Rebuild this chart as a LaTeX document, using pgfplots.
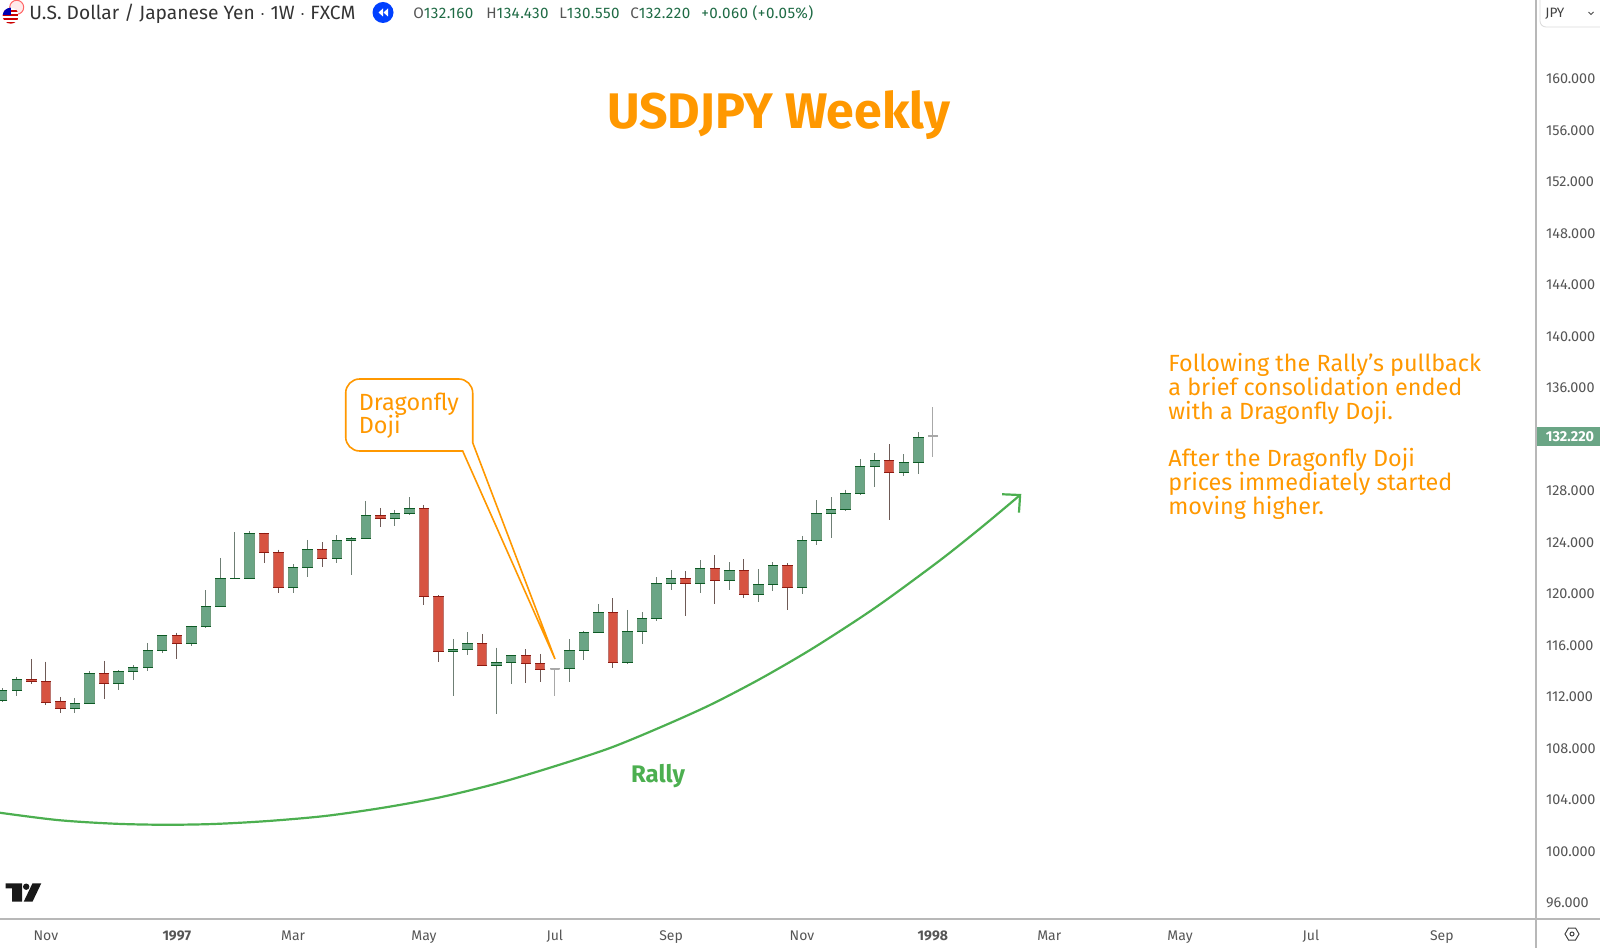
\documentclass[border=0pt]{standalone}
\usepackage{fontspec}
\usepackage{pgfplots}
\usepackage{pgfplotstable}
\pgfplotsset{compat=1.18}
\setmainfont{Fira Sans}

\definecolor{upfill}{HTML}{6AA585}
\definecolor{upedge}{HTML}{0D5A24}
\definecolor{upwick}{HTML}{6F7F75}
\definecolor{dnfill}{HTML}{D75442}
\definecolor{dnedge}{HTML}{8F1A10}
\definecolor{dnwick}{HTML}{6F5A56}
\definecolor{dojigray}{HTML}{A8A8A8}
\definecolor{tvorange}{HTML}{FF9800}
\definecolor{tvgreen}{HTML}{4CAF50}
\definecolor{axisline}{HTML}{B8B8B8}
\definecolor{ticktext}{HTML}{555555}
\definecolor{ohlctext}{HTML}{1F6B45}

% weekly candles: index, low, high, body bottom, body top
\pgfplotstableread{
i low high bot top
0 111.51 112.60 111.67 112.44
1 112.03 113.48 112.42 113.30
5 110.71 111.85 111.02 111.38
6 111.38 113.92 111.38 113.76
8 112.44 114.00 112.94 113.92
9 113.25 114.41 113.89 114.20
10 113.97 116.12 114.18 115.52
11 115.37 116.72 115.52 116.72
13 115.86 117.47 116.09 117.39
14 117.28 120.21 117.39 118.99
15 118.97 122.72 118.97 121.14
16 121.12 124.72 121.12 121.14
17 121.12 124.79 121.12 124.61
20 119.98 122.26 120.39 121.95
21 121.25 124.12 121.95 123.34
23 122.31 124.48 122.67 124.09
24 121.40 124.33 124.07 124.25
25 124.22 127.15 124.22 126.01
27 125.21 126.45 125.78 126.17
28 126.09 127.43 126.14 126.53
31 112.03 116.43 115.45 115.60
32 115.21 116.95 115.60 116.04
34 110.63 115.76 114.36 114.62
35 112.94 115.16 114.62 115.16
39 113.12 116.43 114.10 115.50
40 114.80 117.08 115.50 116.95
41 116.90 119.15 116.90 118.48
43 114.46 118.68 114.61 117.00
44 116.01 118.52 117.00 118.03
45 117.80 121.22 118.03 120.75
46 120.23 121.79 120.75 121.14
48 119.97 122.56 120.75 121.94
50 120.23 122.38 120.96 121.71
52 119.33 121.84 119.87 120.67
53 120.16 122.38 120.67 122.10
55 119.95 124.43 120.39 124.09
56 123.75 127.22 124.09 126.14
57 124.30 127.43 126.14 126.45
58 126.34 128.03 126.45 127.69
59 127.61 130.41 127.69 129.84
60 128.26 130.85 129.84 130.30
62 129.09 130.77 129.35 130.15
63 129.24 132.50 130.15 132.04
}\upcandles

\pgfplotstableread{
i low high bot top
2 112.96 114.88 113.12 113.30
3 111.28 114.67 111.51 113.14
4 110.71 111.93 111.02 111.54
7 111.77 114.72 112.94 113.76
12 114.88 116.92 116.09 116.72
18 122.31 124.69 123.14 124.61
19 120.00 123.37 120.39 123.14
22 122.05 123.96 122.67 123.34
26 125.10 126.61 125.78 126.01
29 119.05 126.84 119.72 126.53
30 114.62 119.82 115.45 119.74
33 114.36 116.82 114.36 116.04
36 113.04 115.63 114.49 115.16
37 113.06 115.27 114.05 114.49
42 114.17 119.61 114.61 118.47
47 118.24 121.68 120.75 121.14
49 119.17 122.93 120.96 121.94
51 119.64 122.64 119.87 121.71
54 118.68 122.30 120.39 122.10
61 125.70 131.57 129.35 130.30
}\downcandles

% dojis, open and close almost equal
\pgfplotstableread{
i low high bot top
38 112.03 114.13 114.10 114.13
64 130.55 134.43 132.16 132.22
}\dojicandles

% #1 table, #2 wick, #3 edge, #4 fill
\newcommand{\candles}[4]{
  \addplot[draw=none, no markers, forget plot, error bars/.cd, y dir=minus, y explicit,
    error mark=none, error bar style={draw=#2, line width=0.5pt}]
    table[x=i, y=high, y error minus expr=\thisrow{high}-\thisrow{low}] {#1};
  \addplot[draw=none, no markers, forget plot, error bars/.cd, y dir=minus, y explicit,
    error mark=none, error bar style={draw=#3!60!white, line width=5.2pt}]
    table[x=i, y=top, y error minus expr=\thisrow{top}-\thisrow{bot}] {#1};
  \addplot[draw=none, no markers, forget plot, error bars/.cd, y dir=minus, y explicit,
    error mark=none, error bar style={draw=#4, line width=4.2pt}]
    table[x=i, y=top, y error minus expr=\thisrow{top}-\thisrow{bot}] {#1};
  \addplot[only marks, mark=-, mark size=2.6pt, mark options={draw=#3, line width=0.5pt}, forget plot]
    table[x=i, y=top] {#1};
  \addplot[only marks, mark=-, mark size=2.6pt, mark options={draw=#3, line width=0.5pt}, forget plot]
    table[x=i, y=bot] {#1};
}

\begin{document}
\begin{tikzpicture}
\begin{axis}[
    at={(0pt,14.5pt)}, anchor=south west,
    scale only axis,
    width=768pt, height=459.5pt,
    xmin=-0.158, xmax=105.48,
    ymin=94.68, ymax=166.058,
    axis x line=bottom, axis y line=right,
    axis line style={-, draw=axisline, line width=0.7pt},
    major tick length=0pt,
    ytick={96,100,...,128,136,140,...,160},
    yticklabel style={anchor=west, inner sep=0pt, xshift=4.85pt, yshift=-0.5pt, text=ticktext,
      font=\fontsize{7.2}{8}\selectfont,
      /pgf/number format/.cd, fixed, fixed zerofill, precision=3, 1000 sep={}, assume math mode=true},
    xtick={3,12,20,29,38,46,55,64,72,81,90,99},
    xticklabels={Nov,\textbf{1997},Mar,May,Jul,Sep,Nov,\textbf{1998},Mar,May,Jul,Sep},
    xticklabel style={text=ticktext, font=\fontsize{7}{8}\selectfont, text height=1.2ex, yshift=-1pt},
]
\candles{\upcandles}{upwick}{upedge}{upfill}
\candles{\downcandles}{dnwick}{dnedge}{dnfill}
\candles{\dojicandles}{dojigray}{dojigray}{dojigray}

% rally curve and its arrow head
\addplot[tvgreen, line width=1.1pt, smooth, tension=0.5, forget plot] coordinates {
  (-0.60,103.00) (3.76,102.37) (7.75,102.08) (11.19,102.00) (14.56,102.06)
  (18.27,102.29) (22.19,102.68) (26.18,103.32) (30.10,104.13) (34.06,105.22)
  (38.01,106.55) (41.79,107.96) (45.22,109.55) (48.67,111.30) (52.11,113.32)
  (55.55,115.57) (58.99,118.06) (61.26,119.84) (64.70,122.72) (67.45,125.20)
  (70.00,127.61)
};
\addplot[tvgreen, line width=1.1pt, forget plot] coordinates {
  (68.76,127.67) (70.00,127.61) (69.92,126.24)
};
\end{axis}

\begin{scope}[x=0.5pt, y=-0.5pt, yshift=474pt]
% frame extensions
\draw[axisline, line width=0.7pt] (1536,919) -- (1600,919);
\draw[axisline, line width=0.7pt] (1536,919) -- (1536,948);

% title and notes
\node[anchor=base, text=tvorange, inner sep=0pt, font=\fontsize{25}{28}\selectfont\bfseries] at (778.5,128.5) {USDJPY Weekly};
\node[anchor=base, text=tvgreen, inner sep=0pt, font=\fontsize{12}{14}\selectfont\bfseries] at (658,782) {Rally};
\foreach \ty/\tx in {371.5/{Following the Rally's pullback}, 396/{a brief consolidation ended}, 420/{with a Dragonfly Doji.},
    467/{After the Dragonfly Doji}, 491/{prices immediately started}, 515/{moving higher.}}
  \node[anchor=base west, text=tvorange, inner sep=0pt, font=\fontsize{11.7}{14}\selectfont] at (1168,\ty) {\tx};

% callout
\draw[tvorange, line width=0.8pt, fill=white]
  (462.7,451) [rounded corners=7pt] -- (345.7,451) -- (345.7,379) -- (472.7,379) [sharp corners] -- (472.7,442.7) -- (555,659) -- cycle;
\node[anchor=base west, text=tvorange, inner sep=0pt, font=\fontsize{11.7}{14}\selectfont] at (358.5,411) {Dragonfly};
\node[anchor=base west, text=tvorange, inner sep=0pt, font=\fontsize{11.7}{14}\selectfont] at (358.5,434) {Doji};

% header
\node[anchor=base west, text=black!80, inner sep=0pt, font=\fontsize{9.6}{10}\selectfont] at (29,20) {U.S. Dollar / Japanese Yen $\cdot$ 1W $\cdot$ FXCM};
\fill[blue!75!cyan] (383,12.5) circle (10.5);
\fill[white] (383,8.5) -- (378.5,12.5) -- (383,16.5) -- cycle;
\fill[white] (388,8.5) -- (383.5,12.5) -- (388,16.5) -- cycle;
\foreach \ox/\ol/\ov in {413/O/132.160, 486/H/134.430, 559/L/130.550, 630/C/132.220}
  \node[anchor=base west, text=ohlctext, inner sep=0pt, font=\fontsize{7.6}{8}\selectfont\addfontfeatures{LetterSpace=3}] at (\ox,19) {{\color{ticktext}\ol}\ov};
\node[anchor=base west, text=ohlctext, inner sep=0pt, font=\fontsize{7.6}{8}\selectfont\addfontfeatures{LetterSpace=3}] at (701,19) {+0.060 (+0.05\%)};

% flag badge
\fill[red!8] (16.7,7.3) circle (7);
\draw[red!60, line width=0.5pt] (16.7,7.3) circle (7);
\begin{scope}
\clip (10.7,15.7) circle (8);
\fill[white] (2,7) rectangle (19,24);
\fill[red!80!black] (2,10) rectangle (19,12);
\fill[red!80!black] (2,14) rectangle (19,16);
\fill[red!80!black] (2,18) rectangle (19,20);
\fill[red!80!black] (2,22) rectangle (19,24);
\fill[blue!70!black] (2,7) rectangle (11,15);
\end{scope}

% currency box
\draw[black!15, line width=0.4pt, rounded corners=3pt] (1540,0) -- (1540,27) -- (1600,27);
\node[anchor=base west, text=black!75, inner sep=0pt, font=\fontsize{6.8}{8}\selectfont] at (1545,18) {JPY};
\draw[black!70, line width=0.5pt] (1588.5,12) -- (1591,14.5) -- (1593.5,12);

% last price tag
\fill[upfill] (1537,427) rectangle (1600,446);
\node[anchor=base, text=white, inner sep=0pt, font=\fontsize{7.2}{8}\selectfont\bfseries] at (1570,442) {132.220};

% settings icon
\draw[black!75, line width=0.5pt] (1565,934) -- (1568.5,928) -- (1575.5,928) -- (1579,934) -- (1575.5,940) -- (1568.5,940) -- cycle;
\draw[black!75, line width=0.5pt] (1572,934) circle (2);

% logo
\fill[black!90] (5.7,883.3) -- (22.2,883.3) -- (22.2,901.7) -- (12.2,901.7) -- (12.2,888.3) -- (5.7,888.3) -- cycle;
\fill[black!90] (26.2,886.7) circle (3.2);
\fill[black!90] (32.5,883.3) -- (41.3,883.3) -- (32.5,901.7) -- (23.7,901.7) -- cycle;

% page size is the reference's, whatever the axis reserved around itself
\pgfresetboundingbox
\path[use as bounding box] (0,0) rectangle (1600,948);
\end{scope}
\end{tikzpicture}
\end{document}
